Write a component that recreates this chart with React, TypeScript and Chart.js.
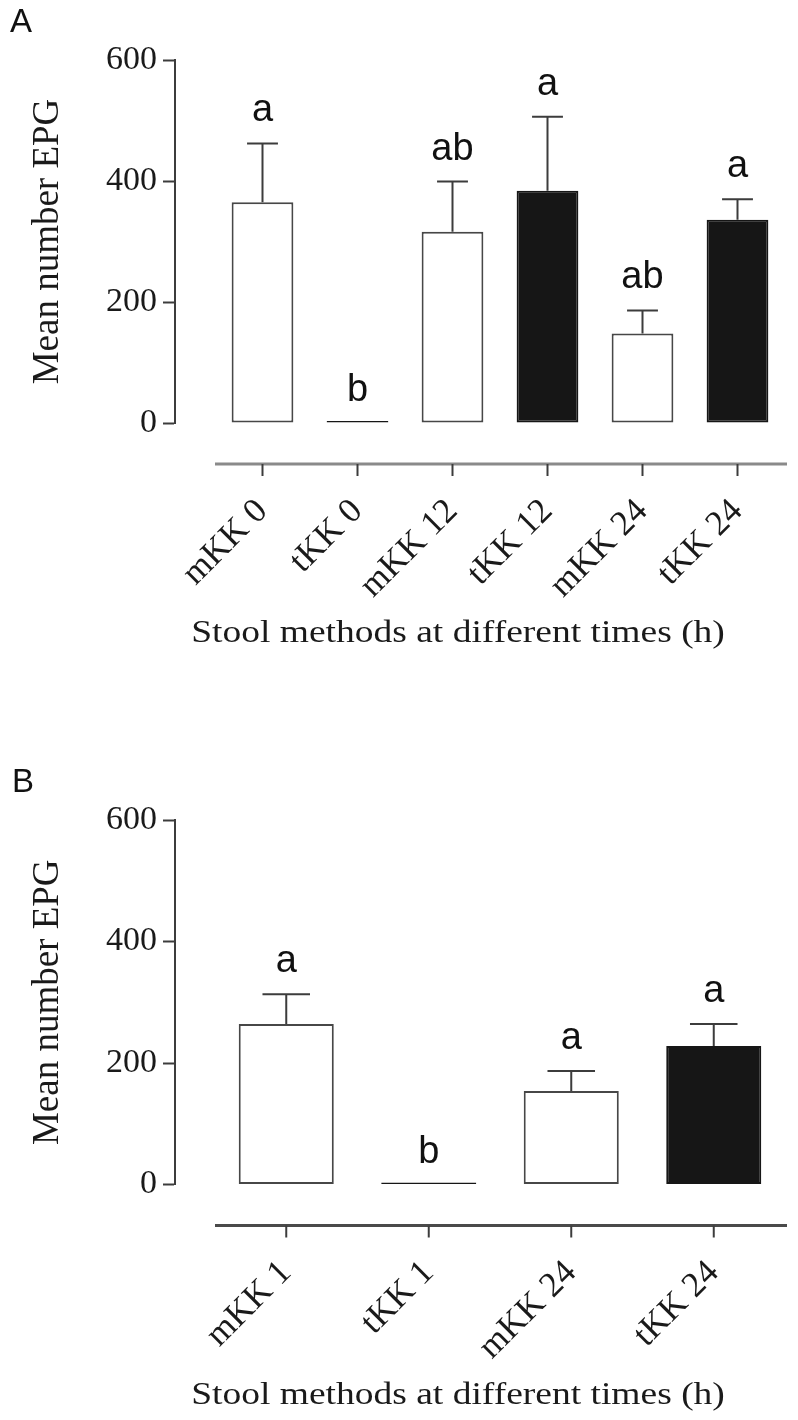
import React, { useEffect, useRef } from 'react';
import { Chart, registerables } from 'chart.js';

Chart.register(...registerables);

// ---------- data ----------
const categoriesA = ['mKK 0', 'tKK 0', 'mKK 12', 'tKK 12', 'mKK 24', 'tKK 24'];
const meansA = [365, 0, 316, 384, 148, 336];
const errorsA = [97, 0, 83, 122, 38, 34];
const lettersA = ['a', 'b', 'ab', 'a', 'ab', 'a'];
const filledA = [false, true, false, true, false, true];

const categoriesB = ['mKK 1', 'tKK 1', 'mKK 24', 'tKK 24'];
const meansB = [264, 0, 154, 228];
const errorsB = [49, 0, 33, 36];
const lettersB = ['a', 'b', 'a', 'a'];
const filledB = [false, true, false, true];

const yTicks = [0, 200, 400, 600];
const yTitle = 'Mean number EPG';
const xTitle = 'Stool methods at different times (h)';

// ---------- layout constants ----------
const W = 798;
const PANEL_H = 710;
const Y_AXIS_W = 175;
const PAD_RIGHT = 8;
const LEFT_GAP = 40; // gap between y axis and first category edge
const RIGHT_GAP = 5;
const SERIF = '"Liberation Serif", "Times New Roman", serif';
const SANS = '"Liberation Sans", Arial, sans-serif';

type Panel = {
  tag: string;
  cats: string[];
  means: number[];
  errors: number[];
  letters: string[];
  filled: boolean[];
  padTop: number;
  zeroY: number;
  barPct: number;
  axisColor: string;
};

const panels: Panel[] = [
  { tag: 'A', cats: categoriesA, means: meansA, errors: errorsA, letters: lettersA, filled: filledA, padTop: 60, zeroY: 423, barPct: 0.65, axisColor: '#8a8a8a' },
  { tag: 'B', cats: categoriesB, means: meansB, errors: errorsB, letters: lettersB, filled: filledB, padTop: 110, zeroY: 474.5, barPct: 0.667, axisColor: '#4a4a4a' },
];

function makeChart(canvas: HTMLCanvasElement, p: Panel) {
  const n = p.cats.length;
  const areaW = W - Y_AXIS_W - PAD_RIGHT;
  const total = n / (1 - (LEFT_GAP + RIGHT_GAP) / areaW);
  const unit = areaW / total;
  const xMin = -0.5 - LEFT_GAP / unit;
  const xMax = n - 0.5 + RIGHT_GAP / unit;

  const extras = {
    id: 'extras' + p.tag,
    afterDatasetsDraw(chart: any) {
      const ctx = chart.ctx as CanvasRenderingContext2D;
      const xs = chart.scales.x;
      const ys = chart.scales.y;
      const area = chart.chartArea;
      const meta = chart.getDatasetMeta(0);
      ctx.save();
      // error bars
      ctx.strokeStyle = '#3c3c3c';
      ctx.lineWidth = 2;
      meta.data.forEach((bar: any, i: number) => {
        const e = p.errors[i];
        if (!e) return;
        const top = ys.getPixelForValue(p.means[i] + e);
        const base = ys.getPixelForValue(p.means[i]);
        const half = bar.width / 4;
        ctx.beginPath();
        ctx.moveTo(bar.x, base);
        ctx.lineTo(bar.x, top);
        ctx.moveTo(bar.x - half, top);
        ctx.lineTo(bar.x + half, top);
        ctx.stroke();
      });
      // significance letters
      ctx.fillStyle = '#111';
      ctx.font = '38px ' + SANS;
      ctx.textAlign = 'center';
      ctx.textBaseline = 'alphabetic';
      meta.data.forEach((bar: any, i: number) => {
        const yv = ys.getPixelForValue(p.means[i] + p.errors[i]);
        ctx.fillText(p.letters[i], bar.x, yv - 22);
      });
      // offset x axis line + tick marks
      const yLine = area.bottom + 41;
      ctx.strokeStyle = p.axisColor;
      ctx.lineWidth = 3;
      ctx.beginPath();
      ctx.moveTo(xs.getPixelForValue(-0.5), yLine);
      ctx.lineTo(xs.getPixelForValue(n - 0.5) + 2, yLine);
      ctx.stroke();
      ctx.strokeStyle = '#3c3c3c';
      ctx.lineWidth = 2;
      for (let i = 0; i < n; i++) {
        const x = xs.getPixelForValue(i);
        ctx.beginPath();
        ctx.moveTo(x, yLine);
        ctx.lineTo(x, yLine + 12);
        ctx.stroke();
      }
      // x title
      ctx.save();
      ctx.translate(458, area.bottom + 219);
      ctx.scale(1.21, 1);
      ctx.font = '31px ' + SERIF;
      ctx.fillStyle = '#1a1a1a';
      ctx.textAlign = 'center';
      ctx.fillText(xTitle, 0, 0);
      ctx.restore();
      // panel letter
      ctx.font = '33px ' + SANS;
      ctx.fillStyle = '#111';
      ctx.textAlign = 'left';
      ctx.fillText(p.tag, p.tag === 'A' ? 10 : 12, p.padTop - 28);
      ctx.restore();
    },
  };

  return new Chart(canvas, {
    type: 'bar',
    data: {
      datasets: [
        {
          data: p.means.map((v, i) => ({ x: i, y: v })),
          backgroundColor: p.filled.map((f) => (f ? '#161616' : '#ffffff')),
          borderColor: p.filled.map((f) => (f ? '#161616' : '#474747')),
          borderWidth: 2,
          borderSkipped: false,
          minBarLength: 2,
          barPercentage: p.barPct,
          categoryPercentage: 1,
        } as any,
      ],
    },
    options: {
      responsive: false,
      animation: false,
      layout: { padding: { top: p.padTop, left: 0, right: PAD_RIGHT, bottom: 0 } },
      plugins: { legend: { display: false }, tooltip: { enabled: false } },
      scales: {
        x: {
          type: 'linear',
          min: xMin,
          max: xMax,
          bounds: 'data',
          offset: false,
          grid: { display: false, drawTicks: false, offset: false },
          border: { display: false },
          afterBuildTicks: (s: any) => {
            s.ticks = p.cats.map((_, i) => ({ value: i }));
          },
          ticks: {
            autoSkip: false,
            minRotation: 45,
            maxRotation: 45,
            padding: 68,
            color: '#1a1a1a',
            font: { family: SERIF, size: 35 },
            callback: (v: any) => (Number.isInteger(v) && v >= 0 && v < n ? p.cats[v] : ''),
          },
          afterFit: (s: any) => {
            s.height = PANEL_H - p.zeroY;
            s.paddingLeft = 0;
            s.paddingRight = 0;
          },
        } as any,
        y: {
          min: 0,
          max: 600,
          afterBuildTicks: (s: any) => {
            s.ticks = yTicks.map((v) => ({ value: v }));
          },
          grid: { drawOnChartArea: false, drawTicks: true, tickLength: 12, tickWidth: 2, tickColor: '#3c3c3c' },
          border: { display: true, color: '#3c3c3c', width: 2 },
          ticks: {
            padding: 6,
            color: '#1a1a1a',
            font: { family: SERIF, size: 34 },
          },
          title: {
            display: true,
            text: yTitle,
            color: '#1a1a1a',
            font: { family: SERIF, size: 37 },
            padding: { top: 26, bottom: 0 },
          },
          afterFit: (s: any) => {
            s.width = Y_AXIS_W;
            s.paddingTop = 0;
            s.paddingBottom = 0;
          },
        } as any,
      },
    },
    plugins: [extras],
  });
}

function PanelChart({ panel }: { panel: Panel }) {
  const ref = useRef<HTMLCanvasElement | null>(null);
  useEffect(() => {
    if (!ref.current) return;
    const chart = makeChart(ref.current, panel);
    return () => chart.destroy();
  }, [panel]);
  return <canvas ref={ref} width={W} height={PANEL_H} style={{ display: 'block' }} />;
}

export default function App() {
  return (
    <div style={{ position: 'absolute', left: 0, top: 0, width: W, height: PANEL_H * 2, background: '#ffffff' }}>
      {panels.map((p) => (
        <PanelChart key={p.tag} panel={p} />
      ))}
    </div>
  );
}
